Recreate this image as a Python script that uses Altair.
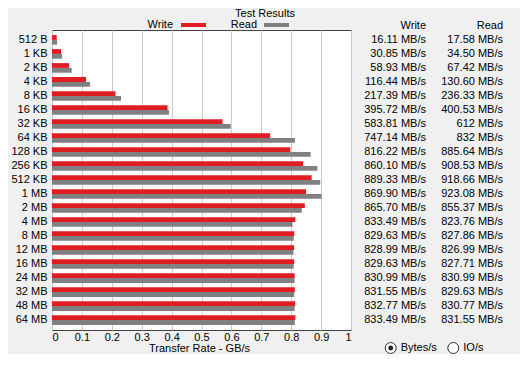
import altair as alt
import pandas as pd

FONT = "Liberation Sans"

sizes = ["512 B", "1 KB", "2 KB", "4 KB", "8 KB", "16 KB", "32 KB", "64 KB", "128 KB",
         "256 KB", "512 KB", "1 MB", "2 MB", "4 MB", "8 MB", "12 MB", "16 MB", "24 MB",
         "32 MB", "48 MB", "64 MB"]
write_mbs = [16.11, 30.85, 58.93, 116.44, 217.39, 395.72, 583.81, 747.14, 816.22, 860.10,
             889.33, 869.90, 865.70, 833.49, 829.63, 828.99, 829.63, 830.99, 831.55, 832.77,
             833.49]
read_mbs = [17.58, 34.50, 67.42, 130.60, 236.33, 400.53, 612, 832, 885.64, 908.53,
            918.66, 923.08, 855.37, 823.76, 827.86, 826.99, 827.71, 830.99, 829.63, 830.77,
            831.55]
series = ["Write", "Read"]
colors = ["#e11d24", "#808080"]
x_ticks = [0, 0.1, 0.2, 0.3, 0.4, 0.5, 0.6, 0.7, 0.8, 0.9, 1]


def fmt(v):
    return str(int(v)) if float(v).is_integer() else f"{v:.2f}"


rows = []
for s, w, r in zip(sizes, write_mbs, read_mbs):
    rows.append({"size": s, "series": "Write", "mbs": w})
    rows.append({"size": s, "series": "Read", "mbs": r})
bars_df = pd.DataFrame(rows)
table_df = pd.DataFrame({
    "size": sizes,
    "wlabel": [fmt(v) + " MB/s" for v in write_mbs],
    "rlabel": [fmt(v) + " MB/s" for v in read_mbs],
})

W, H = 299, 300
yscale = alt.Scale(domain=sizes, paddingInner=0.314, paddingOuter=0.363)
xscale = alt.Scale(domain=[0, 1], nice=False, zero=True)

bars = alt.Chart(bars_df).transform_calculate(
    gbs="datum.mbs / 1024"
).mark_bar(strokeWidth=0).encode(
    x=alt.X("gbs:Q", scale=xscale,
            axis=alt.Axis(values=x_ticks, format="~g", grid=True, gridColor="#cccccc",
                          gridWidth=1, domain=False, ticks=False, labelPadding=1,
                          labelFontSize=11, labelFont=FONT, labelColor="black",
                          labelBaseline="top",
                          title="Transfer Rate - GB/s", titleX=147, titleY=18.5,
                          titleBaseline="middle", titleAlign="center",
                          titleFontWeight="normal", titleFontSize=11, titleFont=FONT,
                          titleColor="black")),
    y=alt.Y("size:N", scale=yscale, sort=sizes,
            axis=alt.Axis(title=None, domain=False, ticks=False, labelPadding=5, grid=False,
                          labelFontSize=11, labelFont=FONT, labelColor="black")),
    yOffset=alt.YOffset("series:N", sort=series,
                        scale=alt.Scale(domain=series, paddingInner=0, paddingOuter=0)),
    color=alt.Color("series:N", sort=series, scale=alt.Scale(domain=series, range=colors),
                    legend=None),
)


def txt(t, x, y, align="left"):
    return alt.Chart(pd.DataFrame({"t": [t]})).mark_text(
        text=t, align=align, baseline="middle", fontSize=11, font=FONT, color="black"
    ).encode(x=alt.value(x), y=alt.value(y))


def swatch(c, x1, x2, y1, y2):
    return alt.Chart(pd.DataFrame({"t": [0]})).mark_rect(color=c).encode(
        x=alt.value(x1), x2=alt.value(x2), y=alt.value(y1), y2=alt.value(y2))


wtext = alt.Chart(table_df).mark_text(align="right", baseline="middle", fontSize=11,
                                      font=FONT, color="black").encode(
    y=alt.Y("size:N", sort=sizes), x=alt.value(374), text="wlabel:N")
rtext = alt.Chart(table_df).mark_text(align="right", baseline="middle", fontSize=11,
                                      font=FONT, color="black").encode(
    y=alt.Y("size:N", sort=sizes), x=alt.value(451), text="rlabel:N")

decor = [
    txt("Write", 374, -4, "right"),
    txt("Read", 451, -4, "right"),
    txt("Test Results", 213, -16.3, "center"),
    txt(series[0], 121, -5, "right"),
    swatch(colors[0], 129, 154, -7, -3),
    txt(series[1], 205, -5, "right"),
    swatch(colors[1], 212, 237, -7, -3),
]

hdr = pd.DataFrame({"t": ["x"]})
RY = 318
radio1 = alt.Chart(hdr).mark_point(shape="circle", size=120, filled=False, stroke="#333333",
                                   fill="white", strokeWidth=1, opacity=1).encode(
    x=alt.value(338.7), y=alt.value(RY))
radio1dot = alt.Chart(hdr).mark_point(shape="circle", size=24, filled=True, color="#222222",
                                      opacity=1).encode(
    x=alt.value(338.7), y=alt.value(RY))
radio2 = alt.Chart(hdr).mark_point(shape="circle", size=120, filled=False, stroke="#333333",
                                   fill="white", strokeWidth=1, opacity=1).encode(
    x=alt.value(401.3), y=alt.value(RY))

chart = alt.layer(
    bars, wtext, rtext, *decor, radio1, radio1dot, radio2,
    txt("Bytes/s", 348.7, RY), txt("IO/s", 411.3, RY)
).properties(
    width=W, height=H,
    padding={"left": 44, "top": 22, "right": 169, "bottom": 24},
    autosize=alt.AutoSizeParams(type="none"),
    background="#f0f0f0",
).configure_view(
    stroke="#404040", strokeWidth=1, fill="white"
)

chart.save("out.html", embed_options={"renderer": "svg", "actions": False})
